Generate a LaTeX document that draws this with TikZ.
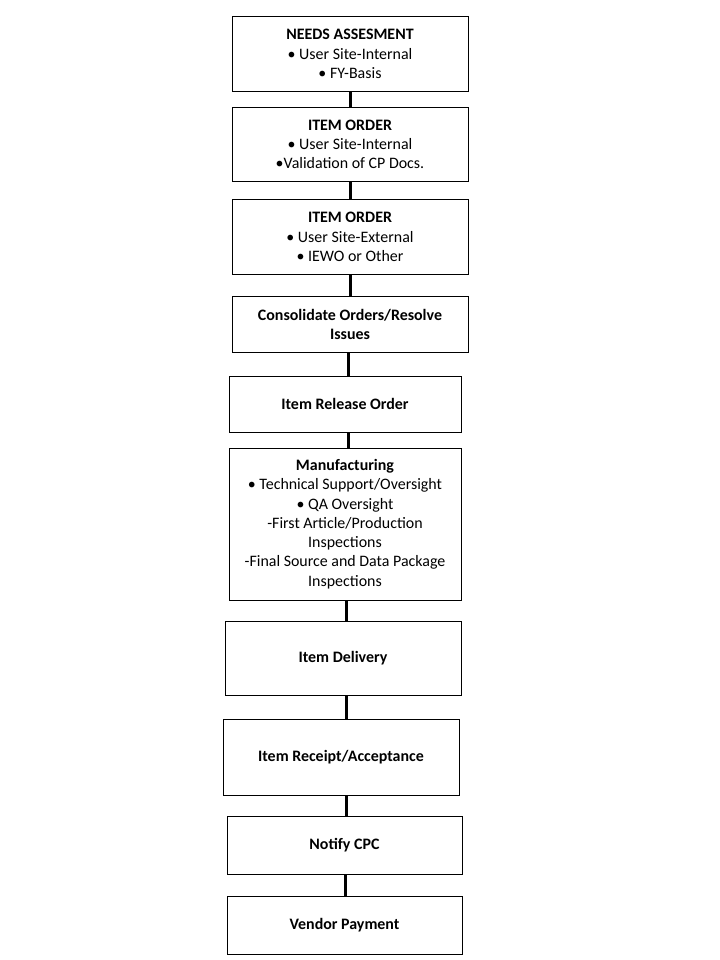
\documentclass[tikz,border=0pt]{standalone}
\usepackage{fontspec}
\setmainfont{Carlito}
\begin{document}
\begin{tikzpicture}[x=1bp,y=-1bp,
  box/.style={draw=black,line width=1bp,align=center,inner sep=0pt,
    font=\fontsize{16}{19.3}\selectfont},
  link/.style={draw=black,line width=3bp}]
\useasboundingbox[fill=white] (0,0) rectangle (720,960);
\node[box,minimum width=236bp,minimum height=75bp] (b1) at (350,54)
  {\textbf{NEEDS ASSESMENT}\\• User Site-Internal\\• FY-Basis};
\node[box,minimum width=236bp,minimum height=74bp] (b2) at (350,144.5)
  {\textbf{ITEM ORDER}\\• User Site-Internal\\•Validation of CP Docs.};
\node[box,minimum width=236bp,minimum height=75bp] (b3) at (350,237)
  {\textbf{ITEM ORDER}\\• User Site-External\\• IEWO or Other};
\node[box,minimum width=236bp,minimum height=56bp] (b4) at (350,324.5)
  {\textbf{Consolidate Orders/Resolve}\\\textbf{Issues}};
\node[box,minimum width=232bp,minimum height=56bp] (b5) at (345,404)
  {\textbf{Item Release Order}};
\node[box,minimum width=232bp,minimum height=152bp] (b6) at (345,524)
  {\textbf{Manufacturing}\\• Technical Support/Oversight\\• QA Oversight\\-First Article/Production\\Inspections\\-Final Source and Data Package\\Inspections};
\node[box,minimum width=236bp,minimum height=74bp] (b7) at (343,658)
  {\textbf{Item Delivery}};
\node[box,minimum width=236bp,minimum height=76bp] (b8) at (341,757)
  {\textbf{Item Receipt/Acceptance}};
\node[box,minimum width=235bp,minimum height=58bp] (b9) at (344.5,845)
  {\textbf{Notify CPC}};
\node[box,minimum width=235bp,minimum height=58bp] (b10) at (344.5,925)
  {\textbf{Vendor Payment}};
\coordinate (c1) at (350,0);
\coordinate (c2) at (348,0);
\coordinate (c3) at (346,0);
\coordinate (c4) at (345,0);
\draw[link] (b1.south -| c1) -- (b2.north -| c1);
\draw[link] (b2.south -| c1) -- (b3.north -| c1);
\draw[link] (b3.south -| c1) -- (b4.north -| c1);
\draw[link] (b4.south -| c2) -- (b5.north -| c2);
\draw[link] (b5.south -| c2) -- (b6.north -| c2);
\draw[link] (b6.south -| c3) -- (b7.north -| c3);
\draw[link] (b7.south -| c3) -- (b8.north -| c3);
\draw[link] (b8.south -| c3) -- (b9.north -| c3);
\draw[link] (b9.south -| c4) -- (b10.north -| c4);
\end{tikzpicture}
\end{document}
